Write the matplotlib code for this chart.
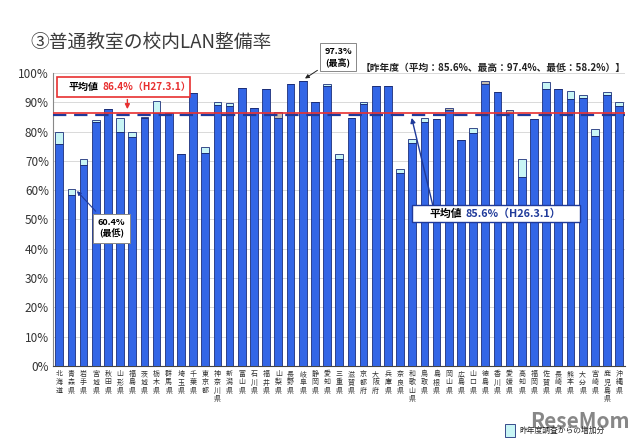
import numpy as np
import matplotlib
matplotlib.use("Agg")
import matplotlib.pyplot as plt
from matplotlib.patches import Rectangle

plt.rcParams['font.family'] = ['Noto Sans CJK JP', 'DejaVu Sans']

prefs = ["北海道", "青森県", "岩手県", "宮城県", "秋田県", "山形県", "福島県", "茨城県",
         "栃木県", "群馬県", "埼玉県", "千葉県", "東京都", "神奈川県", "新潟県", "富山県",
         "石川県", "福井県", "山梨県", "長野県", "岐阜県", "静岡県", "愛知県", "三重県",
         "滋賀県", "京都府", "大阪府", "兵庫県", "奈良県", "和歌山県", "鳥取県", "島根県",
         "岡山県", "広島県", "山口県", "徳島県", "香川県", "愛媛県", "高知県", "福岡県",
         "佐賀県", "長崎県", "熊本県", "大分県", "宮崎県", "鹿児島県", "沖縄県"]

# H27.3.1 rate (%)
rate_h27 = [80.0, 60.4, 70.5, 84.0, 87.6, 84.5, 80.0, 85.1,
            90.5, 86.2, 72.4, 93.0, 74.6, 90.2, 89.9, 94.8,
            88.2, 94.6, 84.8, 96.1, 97.3, 90.1, 96.1, 72.5,
            84.8, 90.0, 95.7, 95.4, 67.3, 77.4, 84.8, 84.4,
            87.4, 77.1, 81.1, 96.4, 93.4, 86.5, 70.6, 84.2,
            96.9, 94.5, 93.7, 92.4, 80.8, 93.5, 90.1]
# H26.3.1 rate (%)
rate_h26 = [75.8, 58.2, 68.5, 83.4, 87.6, 79.9, 78.0, 84.8,
            86.5, 86.2, 72.4, 93.0, 72.8, 89.1, 88.8, 94.8,
            88.2, 94.6, 86.8, 96.1, 97.3, 90.1, 95.4, 70.5,
            84.8, 89.3, 95.7, 95.4, 65.8, 76.0, 83.4, 84.4,
            88.2, 77.1, 79.6, 97.4, 93.4, 87.4, 64.4, 84.2,
            94.7, 94.5, 91.0, 91.3, 78.6, 92.6, 88.8]

avg_h27 = 86.4
avg_h26 = 85.6

cur = np.array(rate_h27)
prev = np.array(rate_h26)
base = np.minimum(cur, prev)
inc = np.clip(cur - prev, 0, None)
dec = np.clip(prev - cur, 0, None)
x = np.arange(len(prefs))

fig = plt.figure(figsize=(6.4, 4.45), dpi=100)
ax = fig.add_axes([0.083, 0.1775, 0.894, 0.6585])

blue = "#3366e6"
edge = "#1c2f7a"
ax.bar(x, base, width=0.63, color=blue, edgecolor=edge, linewidth=0.6, zorder=3)
ax.bar(x, inc, bottom=base, width=0.63, color="#c8f5f5", edgecolor=edge, linewidth=0.6, zorder=3)
ax.bar(x, dec, bottom=base, width=0.63, color="#c4bcb0", edgecolor=edge, linewidth=0.6, zorder=3)

ax.axhline(avg_h27, color="#e83030", lw=1.2, zorder=5)
ax.axhline(avg_h26, color="#1f3a9a", lw=1.6, ls=(0, (6, 3.5)), zorder=4)

ax.set_xlim(-0.5, len(prefs) - 0.5)
ax.set_ylim(0, 100)
ax.set_yticks(np.arange(0, 101, 10))
ax.set_yticklabels([f"{v}%" for v in range(0, 101, 10)], fontsize=8.5, color="#333333")
ax.set_xticks(x)
ax.set_xticklabels(["\n".join(p) for p in prefs], fontsize=5, linespacing=1.05,
                   va="top", color="#333333")
ax.tick_params(axis="both", length=0, pad=3)
ax.grid(axis="y", color="#d9d9d9", lw=0.7, zorder=0)
for s in ["top", "right"]:
    ax.spines[s].set_visible(False)
ax.spines["left"].set_color("#888888")
ax.spines["bottom"].set_color("#444444")

# title
fig.text(0.047, 0.893, "③普通教室の校内LAN整備率", fontsize=13.5, color="#3a3a3a")
fig.text(0.977, 0.848, "【昨年度（平均：85.6%、最高：97.4%、最低：58.2%）】",
         fontsize=7, ha="right", va="center", fontweight="bold", color="#222222")

# max annotation
imax = int(np.argmax(cur))
ax.annotate(f"{cur[imax]:.1f}%\n(最高)", xy=(imax, cur[imax] + 0.3), xytext=(imax + 2.9, 105.5),
            fontsize=6.5, fontweight="bold", ha="center", va="center", annotation_clip=False,
            bbox=dict(boxstyle="square,pad=0.45", fc="white", ec="#888888", lw=0.7),
            arrowprops=dict(arrowstyle="-|>", color="#222222", lw=0.7, mutation_scale=6))

# min annotation
imin = int(np.argmin(cur))
ax.annotate(f"{cur[imin]:.1f}%\n(最低)", xy=(imin + 0.3, cur[imin]), xytext=(imin + 3.3, 47),
            fontsize=6.5, fontweight="bold", ha="center", va="center",
            bbox=dict(boxstyle="square,pad=0.5", fc="white", ec="#888888", lw=0.7),
            arrowprops=dict(arrowstyle="-|>", color="#1f3a9a", lw=0.8, mutation_scale=6))

# H27 average box
ax.annotate("", xy=(5.6, avg_h27 + 0.3), xytext=(5.6, 91.9),
            arrowprops=dict(arrowstyle="-|>", color="#e83030", lw=1.0, mutation_scale=7), zorder=6)
ax.add_patch(Rectangle((-0.17, 91.9), 10.9, 6.7, fc="white", ec="#e83030", lw=1.2,
                       clip_on=False, zorder=6))
ax.text(0.8, 95.25, "平均値", fontsize=7.2, fontweight="bold", va="center", zorder=7)
ax.text(3.55, 95.25, f"{avg_h27}%（H27.3.1）", fontsize=7.2, fontweight="bold",
        color="#e83030", va="center", zorder=7)

# H26 average box
ax.annotate("", xy=(28.9, avg_h26), xytext=(31.0, 49.5),
            arrowprops=dict(arrowstyle="-|>", color="#1f3a9a", lw=1.0, mutation_scale=7), zorder=6)
ax.add_patch(Rectangle((29.0, 49.0), 13.8, 5.8, fc="white", ec="#1f3a9a", lw=1.0, zorder=6))
ax.text(30.4, 51.9, "平均値", fontsize=7.8, fontweight="bold", va="center", zorder=7)
ax.text(33.4, 51.9, f"{avg_h26}%（H26.3.1）", fontsize=7.8, fontweight="bold",
        color="#1f3a9a", va="center", zorder=7)

# watermark
fig.text(0.828, 0.03, "ReseMom", fontsize=15, fontweight="bold", color="#555555",
         alpha=0.7, va="bottom")

# legend
fig.patches.append(Rectangle((0.789, 0.018), 0.015, 0.03, transform=fig.transFigure,
                             fc="#c8f5f5", ec="#1c2f7a", lw=0.6))
fig.text(0.812, 0.032, "昨年度調査からの増加分", fontsize=5.6, va="center", color="#222222")

fig.savefig("out.png", dpi=100)
